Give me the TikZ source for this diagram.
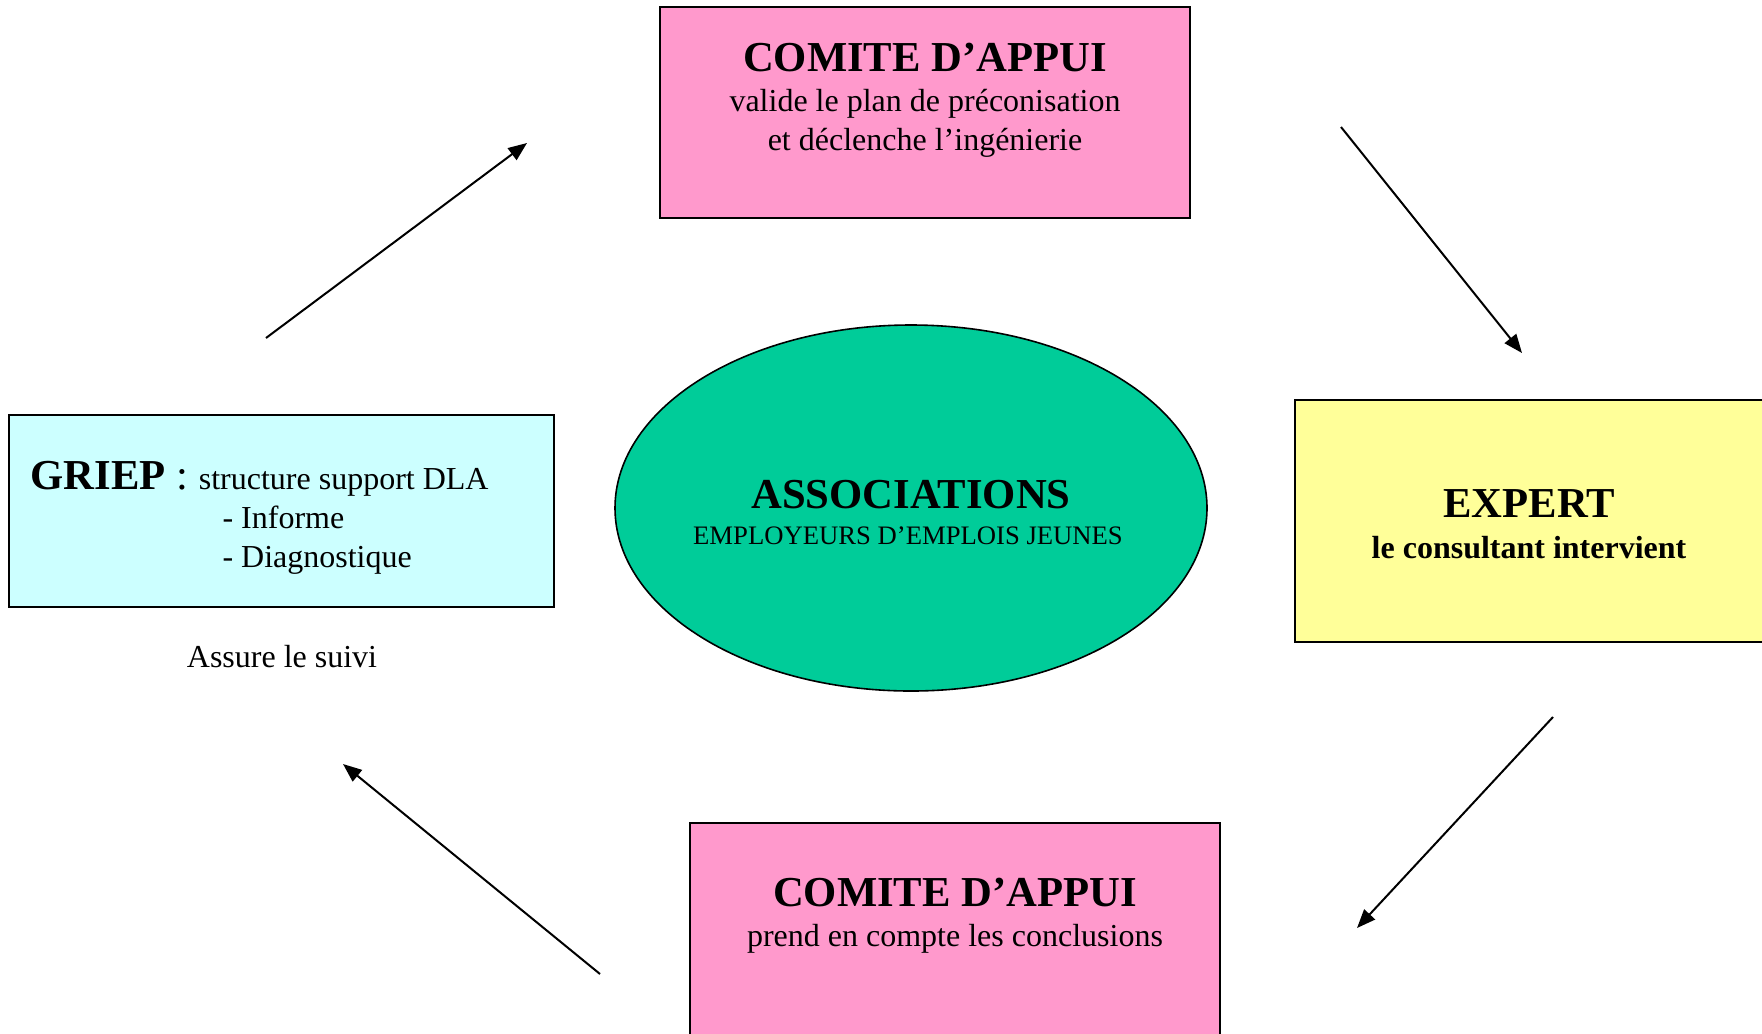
\documentclass[tikz,border=0pt]{standalone}
\usepackage{fontspec}
\setmainfont{Liberation Serif}
\usetikzlibrary{arrows.meta,fit,shapes.geometric}
\definecolor{pinkbox}{HTML}{FF99CC}
\definecolor{cyanbox}{HTML}{CCFFFF}
\definecolor{yellowbox}{HTML}{FFFF99}
\definecolor{greenell}{HTML}{00CC99}
\begin{document}
\begin{tikzpicture}[x=0.375pt,y=-0.375pt,
  box/.style={draw=black, line width=0.8pt, inner sep=0pt, rectangle},
  arr/.style={line width=0.75pt, -{Triangle[length=7pt,width=5.5pt]}},
  ttl/.style={font=\fontsize{16}{19}\selectfont\bfseries, anchor=base, inner sep=0pt},
  sub/.style={font=\fontsize{12}{14}\selectfont, anchor=base, inner sep=0pt},
  subl/.style={font=\fontsize{12}{14}\selectfont, anchor=base west, inner sep=0pt}]
\useasboundingbox (0,0) rectangle (1762,1033);
\clip (0,0) rectangle (1762,1033);
% boxes
\node[box, fill=pinkbox, fit={(660,7) (1190,218)}] (top) {};
\node[box, fill=cyanbox, fit={(9,415) (554,607)}] (left) {};
\node[box, fill=yellowbox, fit={(1295,400) (1780,642)}] (right) {};
\node[box, fill=pinkbox, fit={(690,823) (1220,1050)}] (bottom) {};
\node[ellipse, draw=black, line width=0.6pt, fill=greenell, inner sep=0pt,
      minimum width=222pt, minimum height=137.25pt] (assoc) at (911,508) {};
% texts
\node[ttl] (t1) at (925,71) {COMITE D’APPUI};
\node[sub] (t2) at (925,111) {valide le plan de préconisation};
\node[sub] (t3) at (925,150) {et déclenche l’ingénierie};
\node[ttl] (e1) at (911,508) {ASSOCIATIONS};
\node[sub, font=\fontsize{10}{12}\selectfont] (e2) at (908,544) {EMPLOYEURS D’EMPLOIS JEUNES};
\node[ttl] (x1) at (1529,517) {EXPERT};
\node[sub, font=\fontsize{12}{14}\selectfont\bfseries] (x2) at (1529,558) {le consultant intervient};
\node[ttl] (b1) at (955,906) {COMITE D’APPUI};
\node[sub] (b2) at (955,946) {prend en compte les conclusions};
\node[subl] (g1) at (30,489) {{\fontsize{16}{19}\selectfont{\bfseries GRIEP} :\ }structure support DLA};
\node[subl] (g2) at (222,528) {- Informe};
\node[subl] (g3) at (222,567) {- Diagnostique};
\node[sub] (s1) at (282,667) {Assure le suivi};
% arrows
\coordinate (a1s) at (266,338); \coordinate (a1e) at (527,143);
\coordinate (a2s) at (1341,127); \coordinate (a2e) at (1522,353);
\coordinate (a3s) at (1553,717); \coordinate (a3e) at (1357,928);
\coordinate (a4s) at (600,974); \coordinate (a4e) at (343,764);
\draw[arr] (a1s) -- (a1e);
\draw[arr] (a2s) -- (a2e);
\draw[arr] (a3s) -- (a3e);
\draw[arr] (a4s) -- (a4e);
\end{tikzpicture}
\end{document}
